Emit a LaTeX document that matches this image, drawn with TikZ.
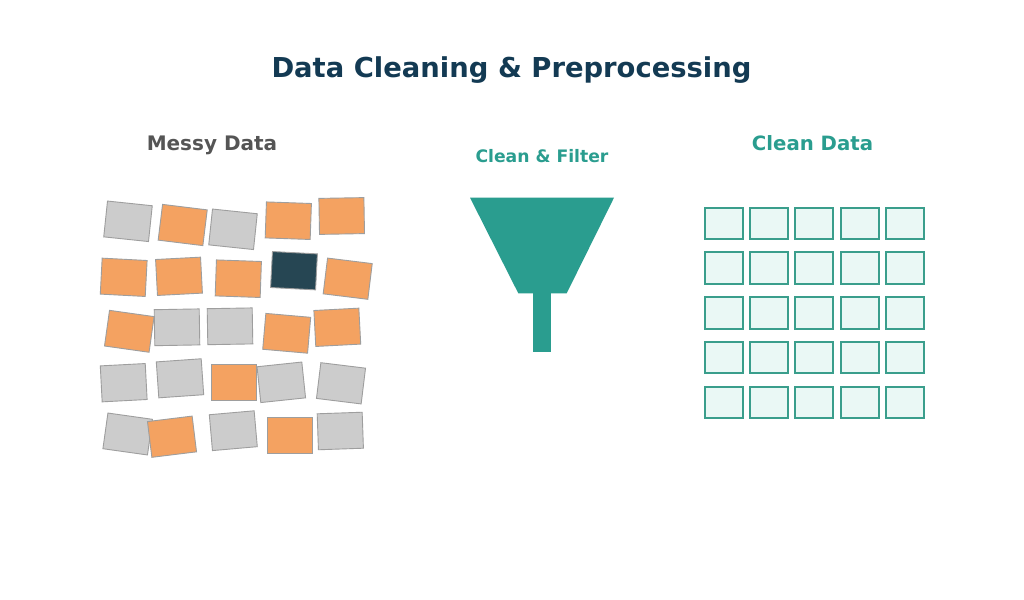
\documentclass[tikz,border=0pt]{standalone}
\usepackage{fontspec}
\setmainfont{DejaVu Sans}
\definecolor{titlec}{HTML}{133A53}
\definecolor{messyc}{HTML}{555555}
\definecolor{tealc}{HTML}{2A9D8F}
\definecolor{orangec}{HTML}{F4A261}
\definecolor{darkc}{HTML}{264653}
\definecolor{grayc}{HTML}{CCCCCC}
\definecolor{edgec}{HTML}{9E9E9E}
\definecolor{mintc}{HTML}{EAF8F5}
\definecolor{gridedge}{HTML}{3A9E8C}
\tikzset{
  sq/.style={draw=edgec, line width=0.9pt, inner sep=0pt, minimum width=45pt, minimum height=36pt},
  gsq/.style={sq, fill=grayc},
  osq/.style={sq, fill=orangec},
  dsq/.style={sq, fill=darkc},
  cell/.style={draw=gridedge, fill=mintc, line width=2pt, inner sep=0pt, minimum width=38pt, minimum height=31.3pt},
  lab/.style={font=\bfseries, anchor=base, inner sep=0pt}
}
\begin{document}
\begin{tikzpicture}[x=1pt,y=-1pt]
\useasboundingbox (0,0) rectangle (1024,599);
\fill[white] (0,0) rectangle (1024,599);
% titles
\node[lab, text=titlec, font=\fontsize{27.4}{30}\selectfont\bfseries] (title) at (511.5,78) {Data Cleaning \& Preprocessing};
\node[lab, text=messyc, font=\fontsize{20}{22}\selectfont\bfseries] (messy) at (212,150) {Messy Data};
\node[lab, text=tealc, font=\fontsize{17.2}{19}\selectfont\bfseries] (filter) at (542,162.5) {Clean \& Filter};
\node[lab, text=tealc, font=\fontsize{19.7}{22}\selectfont\bfseries] (clean) at (812.5,150) {Clean Data};
% messy squares
\node[gsq, rotate=-6] (m11) at (128,221.3) {};
\node[osq, rotate=-7] (m12) at (182.7,225) {};
\node[gsq, rotate=-6] (m13) at (233,229.3) {};
\node[osq, rotate=-2] (m14) at (288.3,220.7) {};
\node[osq, rotate=1] (m15) at (341.7,216) {};
\node[osq, rotate=-3] (m21) at (123.7,277.3) {};
\node[osq, rotate=3] (m22) at (179,276.3) {};
\node[osq, rotate=-2] (m23) at (238.3,278.7) {};
\node[dsq, rotate=-3] (m24) at (294,270.7) {};
\node[osq, rotate=-7] (m25) at (347.7,278.7) {};
\node[osq, rotate=-8] (m31) at (129.3,331.3) {};
\node[gsq, rotate=1] (m32) at (177,327.3) {};
\node[gsq, rotate=1] (m33) at (230,326.3) {};
\node[osq, rotate=-5] (m34) at (286.7,333.3) {};
\node[osq, rotate=3] (m35) at (337.3,327.3) {};
\node[gsq, rotate=3] (m41) at (123.7,382.7) {};
\node[gsq, rotate=4] (m42) at (180,378.3) {};
\node[osq, rotate=0] (m43) at (233.7,382.3) {};
\node[gsq, rotate=6] (m44) at (281.3,382.3) {};
\node[gsq, rotate=-7] (m45) at (341,383.3) {};
\node[gsq, rotate=-8] (m51) at (127.7,434) {};
\node[osq, rotate=7] (m52) at (172,436.7) {};
\node[gsq, rotate=5] (m53) at (233.3,430.7) {};
\node[osq, rotate=0] (m54) at (289.7,435.7) {};
\node[gsq, rotate=2] (m55) at (340.3,431) {};
% funnel
\fill[tealc] (470,197.7) -- (614,197.7) -- (566.7,293.3) -- (518.3,293.3) -- cycle;
\fill[tealc] (532.7,293) rectangle (550.7,352.3);
% clean grid
\foreach \i in {0,...,4}{
  \foreach \j in {0,...,4}{
    \node[cell] (c\j\i) at ({724+45.2*\i},{223.3+44.8*\j}) {};
  }
}
\end{tikzpicture}
\end{document}
